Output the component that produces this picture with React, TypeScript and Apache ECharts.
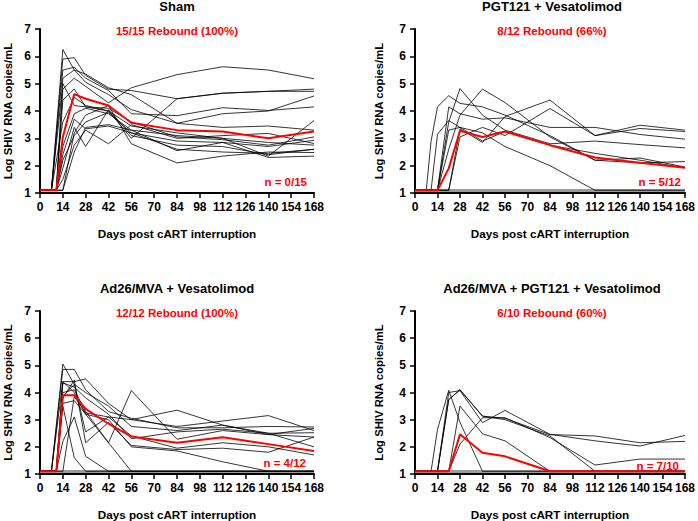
import React, { useEffect, useRef } from "react";
import * as echarts from "echarts";

const days = [0, 7, 10, 14, 21, 28, 42, 56, 84, 112, 140, 168];
const xTicks = { min: 0, max: 168, interval: 14 };
const yTicks = { min: 1, max: 7, interval: 1 };

const titles = ["Sham", "PGT121 + Vesatolimod", "Ad26/MVA + Vesatolimod", "Ad26/MVA + PGT121 + Vesatolimod"];
const rebound = ["15/15 Rebound (100%)", "8/12 Rebound (66%)", "12/12 Rebound (100%)", "6/10 Rebound (60%)"];
const nLabels = ["n = 0/15", "n = 5/12", "n = 4/12", "n = 7/10"];

const shamAnimals = [
  [1.1, 1.1, null, 6.25, 5.5, 5.35, 4.85, 4.6, 3.55, 3.4, 3.45, 3.3],
  [1.1, 1.1, null, 5.9, 5.95, 5.3, 4.8, 4.75, 4.45, 4.65, 4.72, 4.72],
  [1.1, 1.1, null, 5.5, 5.6, 5.2, 4.75, 3.9, 3.83, 4.12, 4.02, 4.15],
  [1.1, 1.1, 1.1, 5.2, 5.5, 5.05, 4.6, 4.05, 3.55, 3.9, 4.0, 4.55],
  [1.1, 1.1, 1.1, 4.8, 5.2, 4.9, 4.3, 4.85, 5.33, 5.62, 5.5, 5.18],
  [1.1, 1.1, 1.1, 4.4, 4.8, 4.15, 4.0, 3.0, 4.45, 4.65, 4.72, 4.8],
  [1.1, 1.1, 1.1, 2.7, 3.9, 4.1, 3.9, 3.3, 3.1, 3.0, 2.35, 3.65],
  [1.1, 1.1, 1.1, 2.4, 3.7, 3.35, 3.45, 3.2, 2.9, 2.85, 2.7, 2.93],
  [1.1, 1.1, 1.1, 1.9, 3.4, 2.7, 4.05, 3.1, 2.75, 2.7, 2.4, 2.6],
  [1.1, 1.1, 1.1, 1.5, 2.75, 3.3, 2.8, 3.5, 3.0, 3.1, 3.18, 2.81],
  [1.1, 1.1, 1.1, 1.1, 3.2, 3.85, 4.2, 2.8, 2.1, 2.35, 2.5, 2.48],
  [1.1, 1.1, 1.1, 1.1, 2.5, 3.4, 3.5, 3.3, 2.55, 2.85, 2.3, 2.35],
  [1.1, 1.1, null, 3.6, 4.5, 4.2, 4.0, 3.45, 3.2, 3.0, 2.85, 2.75],
  [1.1, 1.1, null, 5.0, 4.2, 4.15, 4.1, 3.6, 3.05, 2.95, 2.75, 3.05],
  [1.1, 1.1, 1.1, 2.2, 3.1, 3.6, 3.95, 3.2, 2.6, 2.5, 2.45, 2.6],
];
const shamMean = [1.1, 1.1, 1.1, 3.05, 4.62, 4.45, 4.2, 3.57, 3.3, 3.25, 3.0, 3.25];

const pgtAnimals = [
  [1.1, 1.1, 2.9, 4.15, 4.56, 4.28, 4.15, 3.85, 3.1, 2.2, 2.1, 2.15],
  [1.1, 1.1, 1.1, 3.15, 3.65, 3.4, 3.2, 2.7, 2.0, 1.1, 1.1, 1.1],
  [1.1, 1.1, 1.1, 1.1, 4.15, 3.9, 3.7, 3.75, 3.4, 3.4, 3.14, 2.97],
  [1.1, 1.1, 1.1, 1.1, 3.6, 4.82, 3.85, 3.3, 2.8, 2.9, 2.77, 2.65],
  [1.1, 1.1, 1.1, 1.1, 2.6, 3.85, 4.8, 4.31, 3.05, 2.2, 2.28, 1.95],
  [1.1, 1.1, 1.1, 1.1, 1.1, 3.35, 2.85, 3.8, 4.4, 3.1, 3.48, 3.3],
  [1.1, 1.1, 1.1, 1.1, 1.1, 3.05, 3.4, 3.1, 4.09, 3.1, 3.36, 3.25],
  [1.1, 1.1, 1.1, 1.1, 3.3, 3.4, 2.9, 3.25, 2.75, 2.45, 2.2, 1.92],
];
const pgtMean = [1.1, 1.1, 1.1, 1.1, 1.9, 3.28, 3.05, 3.25, 2.75, 2.3, 2.11, 1.92];

const adAnimals = [
  [1.1, 1.1, null, 5.05, 4.3, 4.0, 3.5, 2.75, 2.6, 2.8, 2.45, 2.68],
  [1.1, 1.1, null, 4.85, 4.85, 4.1, 3.3, 3.05, 2.7, 2.7, 2.75, 2.73],
  [1.1, 1.1, 1.1, 4.4, 4.4, 4.5, 3.6, 3.0, 2.75, 2.95, 3.15, 2.6],
  [1.1, 1.1, 1.1, 4.35, 4.2, 3.8, 3.2, 2.3, 2.55, 2.65, 2.5, 2.52],
  [1.1, 1.1, 1.1, 4.0, 4.1, 3.3, 2.15, 4.07, 2.28, 2.6, 2.45, 2.36],
  [1.1, 1.1, 1.1, 3.85, 4.3, 2.55, 3.1, 2.4, 1.95, 2.15, 2.0, 1.7],
  [1.1, 1.1, 1.1, 3.8, 4.45, 2.15, 2.9, 2.05, 1.9, 1.95, 1.8, 2.36],
  [1.1, 1.1, 1.1, 3.5, 1.6, 1.1, 1.1, 1.1, 1.1, 1.1, 1.1, 1.1],
  [1.1, 1.1, 1.1, 2.2, 3.1, 1.65, 1.1, 1.1, 1.1, 1.1, 1.1, 1.1],
  [1.1, 1.1, 1.1, 3.6, 3.7, 3.2, 2.15, 1.1, 1.1, 1.1, 1.1, 1.1],
  [1.1, 1.1, null, 4.4, 4.0, 3.2, 3.0, 2.0, 1.85, 1.45, 1.1, 1.1],
  [1.1, 1.1, 1.1, 1.1, 3.85, 3.25, 3.1, 3.0, 3.35, 2.8, 2.5, 2.0],
];
const adMean = [1.1, 1.1, 1.1, 3.9, 3.9, 3.4, 2.85, 2.38, 2.15, 2.35, 2.1, 1.85];

const comboAnimals = [
  [1.1, 1.1, 1.1, 2.64, 4.08, 2.9, 1.1, 1.1, 1.1, 1.1, 1.1, 1.1],
  [1.1, 1.1, 1.1, 1.1, 3.74, 4.1, 3.13, 3.05, 2.45, 2.4, 2.15, 2.2],
  [1.1, 1.1, 1.1, 1.1, 4.0, 4.07, 2.89, 3.34, 2.46, 2.22, 2.03, 2.42],
  [1.1, 1.1, 1.1, 1.1, 1.1, 3.5, 2.48, 2.22, 1.1, 1.1, 1.1, 1.1],
  [1.1, 1.1, 1.1, 1.1, 1.1, 2.1, 3.07, 3.07, 2.34, 1.33, 1.55, 1.55],
  [1.1, 1.1, 1.1, 1.1, 3.74, 4.1, 3.13, 3.0, 2.4, 1.1, 1.1, 1.1],
];
const comboMean = [1.1, 1.1, 1.1, 1.1, 1.1, 2.46, 1.78, 1.65, 1.1, 1.1, 1.1, 1.1];

const baseline = [1.09, 1.09];
const baselineDays = [0, 168];

const panels = [
  { animals: shamAnimals, mean: shamMean, showBase: false },
  { animals: pgtAnimals, mean: pgtMean, showBase: true },
  { animals: adAnimals, mean: adMean, showBase: true },
  { animals: comboAnimals, mean: comboMean, showBase: true },
];

const FONT = "'Liberation Sans', Arial, Helvetica, sans-serif";

const grids = [
  { left: 40, top: 29, width: 274, height: 164 },
  { left: 415, top: 29, width: 274, height: 164 },
  { left: 40, top: 311, width: 274, height: 164 },
  { left: 415, top: 311, width: 274, height: 164 },
];
const yNameGap = [27, 31, 27, 31];
const titleCenter = [[177, 6.5], [552, 6.5], [177, 288], [552, 288]];
const subCenter = [[177, 31], [552, 31], [177, 313], [552, 313]];
const nPos = [[307, 182], [681, 182], [306, 463], [679, 466]];

function pairs(vals: (number | null)[], xs: number[]) {
  return xs.map((d, i) => [d, vals[i]]);
}

export default function App() {
  const ref = useRef<HTMLDivElement>(null);
  useEffect(() => {
    if (!ref.current) return;
    const chart = echarts.init(ref.current, null, { renderer: "svg" });
    const series: any[] = [];
    panels.forEach((p, gi) => {
      if (p.showBase) {
        series.push({
          type: "line",
          xAxisIndex: gi,
          yAxisIndex: gi,
          data: pairs(baseline, baselineDays),
          symbol: "none",
          lineStyle: { color: "#9a9a9a", width: 3 },
          z: 1,
          silent: true,
        });
      }
      p.animals.forEach((a) => {
        series.push({
          type: "line",
          xAxisIndex: gi,
          yAxisIndex: gi,
          data: pairs(a, days),
          connectNulls: true,
          symbol: "none",
          lineStyle: { color: "#000", width: 0.8 },
          z: 2,
          silent: true,
        });
      });
      series.push({
        type: "line",
        xAxisIndex: gi,
        yAxisIndex: gi,
        data: pairs(p.mean, days),
        symbol: "none",
        lineStyle: { color: "#ff0000", width: 2 },
        z: 3,
        silent: true,
      });
    });

    const graphics: any[] = [];
    for (let i = 0; i < 4; i++) {
      graphics.push({
        type: "text",
        x: titleCenter[i][0],
        y: titleCenter[i][1],
        style: {
          text: titles[i],
          fill: "#000",
          font: `bold 13px ${FONT}`,
          textAlign: "center",
          textVerticalAlign: "middle",
        },
      });
      graphics.push({
        type: "text",
        x: subCenter[i][0],
        y: subCenter[i][1],
        style: {
          text: rebound[i],
          fill: "#ff0000",
          font: `bold 11.5px ${FONT}`,
          textAlign: "center",
          textVerticalAlign: "middle",
        },
      });
      graphics.push({
        type: "text",
        x: nPos[i][0],
        y: nPos[i][1],
        style: {
          text: nLabels[i],
          fill: "#ff0000",
          font: `bold 11.5px ${FONT}`,
          textAlign: "right",
          textVerticalAlign: "middle",
        },
      });
    }

    const axisLabelStyle = { color: "#000", fontWeight: "bold", fontSize: 12, fontFamily: FONT };

    chart.setOption({
      animation: false,
      grid: grids,
      xAxis: grids.map((_, i) => ({
        type: "value",
        gridIndex: i,
        min: xTicks.min,
        max: xTicks.max,
        interval: xTicks.interval,
        name: "Days post cART interruption",
        nameLocation: "middle",
        nameGap: 34,
        nameTextStyle: { color: "#000", fontWeight: "bold", fontSize: 11.7, fontFamily: FONT },
        axisLine: { show: true, onZero: false, lineStyle: { color: "#000", width: 2 } },
        axisTick: { show: true, length: 5, lineStyle: { color: "#000", width: 1.5 } },
        axisLabel: { ...axisLabelStyle, margin: 8 },
        splitLine: { show: false },
      })),
      yAxis: grids.map((_, i) => ({
        type: "value",
        gridIndex: i,
        min: yTicks.min,
        max: yTicks.max,
        interval: yTicks.interval,
        name: "Log SHIV RNA copies/mL",
        nameLocation: "middle",
        nameGap: yNameGap[i],
        nameTextStyle: { color: "#000", fontWeight: "bold", fontSize: 11.3, fontFamily: FONT },
        axisLine: { show: true, lineStyle: { color: "#000", width: 2 } },
        axisTick: { show: true, length: 5, lineStyle: { color: "#000", width: 1.5 } },
        axisLabel: { ...axisLabelStyle, margin: 9 },
        splitLine: { show: false },
      })),
      series,
      graphic: graphics,
    });
    return () => chart.dispose();
  }, []);
  return (
    <div
      ref={ref}
      style={{ position: "fixed", left: 0, top: 0, width: 698, height: 521, background: "#fff" }}
    />
  );
}
